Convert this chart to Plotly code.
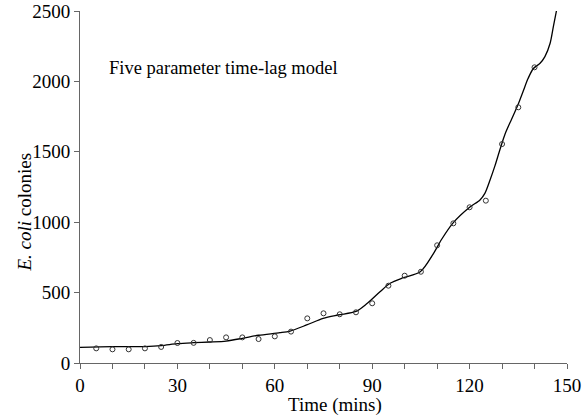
import plotly.graph_objects as go

# Observed data points
obs_t = [5, 10, 15, 20, 25, 30, 35, 40, 45, 50, 55, 60, 65, 70, 75, 80, 85, 90,
         95, 100, 105, 110, 115, 120, 125, 130, 135, 140]
obs_y = [104, 97, 97, 104, 114, 142, 143, 163, 182, 182, 170, 189, 223, 317, 353, 346, 360, 424,
         549, 620, 648, 836, 992, 1106, 1153, 1555, 1816, 2100]

# Fitted model curve
fit_t = [0, 10, 20, 25, 30, 35, 40, 45, 50, 55, 61.6, 64.7, 69.8, 74.9, 79.5, 85, 88.3, 92.4,
         95.5, 99.6, 104.8, 108.9, 111.4, 114.8, 120, 123.2, 124.7, 126.3, 127.8, 129.4, 130.9,
         133, 135, 136.5, 138, 139.6, 141.7, 143.2, 144.8, 145.8, 146.8]
fit_y = [111, 116, 117, 123, 137, 144, 149, 156, 175, 197, 215, 227, 270, 317, 341, 366, 420, 506,
         566, 606, 648, 779, 879, 992, 1106, 1158, 1205, 1300, 1400, 1520, 1625,
         1735, 1840, 1930, 2020, 2090, 2129, 2176, 2271, 2389, 2507]

x_ticks = [0, 10, 20, 30, 40, 50, 60, 70, 80, 90, 100, 110, 120, 130, 140, 150]
x_labels = [str(v) if v % 30 == 0 else "" for v in x_ticks]
y_ticks = [0, 500, 1000, 1500, 2000, 2500]

font_family = "Liberation Serif"

fig = go.Figure()
fig.add_trace(go.Scatter(x=fit_t, y=fit_y, mode="lines",
                         line=dict(color="black", width=1.3, shape="spline", smoothing=0.8),
                         hoverinfo="skip", showlegend=False))
fig.add_trace(go.Scatter(x=obs_t, y=obs_y, mode="markers",
                         marker=dict(symbol="circle-open", size=5, color="#333333",
                                     line=dict(width=1, color="#333333")),
                         showlegend=False))

fig.add_annotation(x=8.3, y=2095, xref="x", yref="y", text="Five parameter time-lag model",
                   showarrow=False, xanchor="left", yanchor="middle",
                   font=dict(family=font_family, size=18.5, color="black"))
# Axis titles
fig.add_annotation(x=-0.113, y=0.43, xref="paper", yref="paper", text="<i>E. coli</i> colonies",
                   showarrow=False, xanchor="center", yanchor="middle", textangle=-90,
                   font=dict(family=font_family, size=19, color="black"))
fig.add_annotation(x=0.524, y=-0.119, xref="paper", yref="paper", text="Time (mins)",
                   showarrow=False, xanchor="center", yanchor="middle",
                   font=dict(family=font_family, size=19, color="black"))

fig.update_layout(
    width=582, height=420,
    margin=dict(l=80, r=15, t=11, b=57, autoexpand=False),
    paper_bgcolor="white", plot_bgcolor="white",
    font=dict(family=font_family, size=18, color="black"),
    xaxis=dict(range=[0, 150], tickvals=x_ticks, ticktext=x_labels, ticks="outside",
               ticklen=5, tickcolor="#666666", showline=True, linecolor="#666666", linewidth=1,
               showgrid=False, zeroline=False, automargin=False,
               tickfont=dict(family=font_family, size=19, color="black")),
    yaxis=dict(range=[0, 2500], tickvals=y_ticks, ticks="outside", ticklen=5,
               tickcolor="#666666", showline=True, linecolor="#666666", linewidth=1,
               showgrid=False, zeroline=False, automargin=False,
               tickfont=dict(family=font_family, size=19, color="black")),
)

fig.write_html("out.html")
